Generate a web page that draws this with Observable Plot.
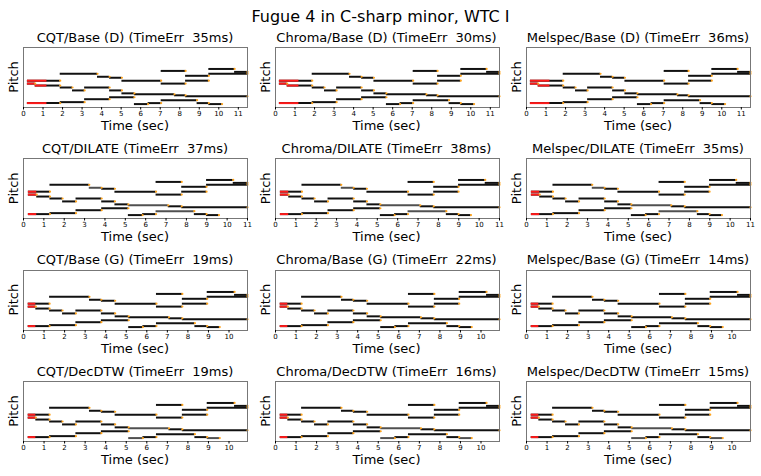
<!DOCTYPE html>
<html><head><meta charset="utf-8">
<script src="https://cdn.jsdelivr.net/npm/d3@7"></script>
<script src="https://cdn.jsdelivr.net/npm/@observablehq/plot@0.6"></script>
<style>
body{margin:0;background:#fff;}
#wrap{position:relative;width:761px;height:476px;overflow:hidden;font-family:"DejaVu Sans",sans-serif;background:#fff;}
#wrap svg.panel{position:absolute;}
#overlay{position:absolute;left:0;top:0;pointer-events:none;}
</style></head><body><div id="wrap"></div>
<script>
// ---------- data ----------
const suptitle = "Fugue 4 in C-sharp minor, WTC I";
const features = ["CQT", "Chroma", "Melspec"];
const methods = ["Base (D)", "DILATE", "Base (G)", "DecDTW"];
const timeErr = [[35, 30, 36], [37, 38, 35], [19, 22, 14], [19, 16, 15]];

// score notes: MIDI pitch, onset event index, offset event index
const notePitch = [68, 65, 64, 61, 61, 58, 58, 56, 54, 54, 51, 51, 48, 47, 46, 45, 44, 42, 41, 39, 38, 37, 37, 38, 38, 71, 66, 61, 73, 70, 68];
const noteOn    = [ 2,  5,  6,  7,  0,  0, 10,  1,  2,  4,  3,  6,  7,  8, 11, 12,  6,  4, 10,  2,  0,  8, 14,  9, 13, 10, 12, 12, 14, 16, 14];
const noteOff   = [ 5,  6,  7, 10,  2,  1, 12,  2,  3,  6,  4,  7,  8, 11, 12, 17,  8,  6, 13,  4,  2,  9, 15, 10, 14, 12, 14, 14, 16, 17, 17];

// aligned event times (sec) per method row
const eventsD      = [0.20, 0.60, 1.88, 2.51, 3.13, 3.79, 4.41, 5.04, 5.68, 6.38, 7.05, 7.73, 8.30, 8.89, 9.49, 10.17, 10.81, 11.47];
const eventsDilate = [0.24, 0.65, 1.30, 1.92, 2.58, 3.23, 3.84, 4.49, 5.15, 5.85, 6.51, 7.11, 7.77, 8.39, 8.99, 9.60, 10.30, 11.00];
const eventsG      = [0.23, 0.60, 1.27, 1.90, 2.55, 3.21, 3.79, 4.46, 5.12, 5.81, 6.47, 7.08, 7.73, 8.34, 8.94, 9.55, 10.27, 10.90];
const eventsDec    = [0.23, 0.60, 1.27, 1.90, 2.55, 3.21, 3.79, 4.46, 5.12, 5.81, 6.47, 7.08, 7.73, 8.34, 8.94, 9.55, 10.27, 10.90];
const rowEvents = [eventsD, eventsDilate, eventsG, eventsDec];
const rowXMax = [11.47, 11.0, 10.9, 10.9];
const rowTicks = [
  [0, 1, 2, 3, 4, 5, 6, 7, 8, 9, 10, 11],
  [0, 1, 2, 3, 4, 5, 6, 7, 8, 9, 10, 11],
  [0, 1, 2, 3, 4, 5, 6, 7, 8, 9, 10],
  [0, 1, 2, 3, 4, 5, 6, 7, 8, 9, 10]
];
const rowRedEnd = [1.2, 0.65, 0.6, 0.6];
const rowGray = [[], [1, 13, 18], [], [13, 21, 22]];
const pitchDomain = [33.5, 95];

// ---------- layout ----------
const frameLefts = [23, 274.5, 526];
const frameTops = [47, 158.3, 269.7, 381];
const frameW = 224, frameH = 60;
const mL = 23, mR = 4, mT = 2, mB = 14;

const wrap = document.getElementById("wrap");

for (let r = 0; r < 4; r++) {
  const ev = rowEvents[r];
  const notes = notePitch.map((p, i) => ({
    pitch: p, start: ev[noteOn[i]], end: ev[noteOff[i]], gray: rowGray[r].includes(i)
  }));
  const red = notes.filter(d => d.start < rowRedEnd[r])
    .map(d => ({pitch: d.pitch, start: d.start, end: Math.min(d.end, rowRedEnd[r])}));
  for (let c = 0; c < 3; c++) {
    const svg = Plot.plot({
      width: frameW + mL + mR, height: frameH + mT + mB,
      marginLeft: mL, marginRight: mR, marginTop: mT, marginBottom: mB,
      style: {fontFamily: "DejaVu Sans", fontSize: "7px", background: "transparent", overflow: "visible", color: "#000"},
      x: {domain: [0, rowXMax[r]]},
      y: {domain: pitchDomain, axis: null},
      marks: [
        Plot.ruleY(notes, {y: "pitch", x1: "start", x2: "end", stroke: d => d.gray ? "#505050" : "#111", strokeWidth: 2}),
        Plot.ruleY(red, {y: "pitch", x1: "start", x2: "end", stroke: "#ff1a1a", strokeWidth: 2}),
        Plot.dot(notes, {x: "end", y: "pitch", r: 1.1, fill: "#ffa31a", stroke: null}),
        Plot.frame({stroke: "#777", strokeWidth: 1}),
        Plot.axisX({ticks: rowTicks[r], tickSize: 2.5, tickPadding: 1.5, label: null, tickFormat: d => String(d), fontSize: 7})
      ]
    });
    svg.classList.add("panel");
    svg.style.left = (frameLefts[c] - mL) + "px";
    svg.style.top = (frameTops[r] - mT) + "px";
    wrap.appendChild(svg);
  }
}

// ---------- text overlay ----------
const ov = d3.select(wrap).append("svg").attr("id", "overlay").attr("width", 761).attr("height", 476)
  .style("font-family", "'DejaVu Sans', sans-serif");
ov.append("text").attr("x", 380.5).attr("y", 21.7).attr("text-anchor", "middle")
  .attr("font-size", 16).text(suptitle);
for (let r = 0; r < 4; r++) {
  for (let c = 0; c < 3; c++) {
    const cx = frameLefts[c] + frameW / 2;
    ov.append("text").attr("x", cx).attr("y", frameTops[r] - 5.5).attr("text-anchor", "middle")
      .attr("font-size", 13).style("white-space", "pre").attr("xml:space", "preserve")
      .text(`${features[c]}/${methods[r]} (TimeErr  ${timeErr[r][c]}ms)`);
    ov.append("text").attr("x", cx).attr("y", frameTops[r] + frameH + 23).attr("text-anchor", "middle")
      .attr("font-size", 13).text("Time (sec)");
    ov.append("text").attr("transform", `translate(${frameLefts[c] - 5},${frameTops[r] + frameH / 2}) rotate(-90)`)
      .attr("text-anchor", "middle").attr("font-size", 13).text("Pitch");
  }
}
</script></body></html>
